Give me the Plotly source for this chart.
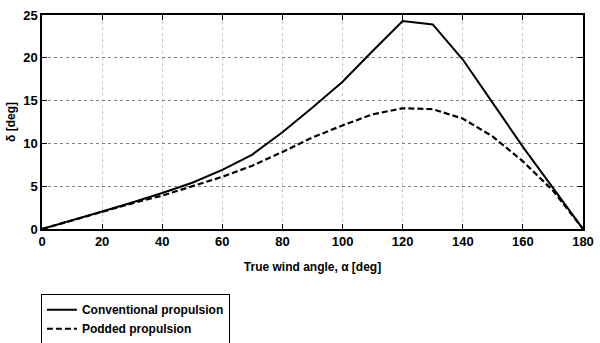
import plotly.graph_objects as go

angle = [0, 10, 20, 30, 40, 50, 60, 70, 80, 90, 100, 110, 120, 130, 140, 150, 160, 170, 180]
conventional = [0, 1.0, 2.05, 3.1, 4.2, 5.4, 6.9, 8.7, 11.3, 14.2, 17.2, 20.8, 24.3, 23.9, 19.8, 14.7, 9.6, 4.8, 0]
podded = [0, 1.0, 2.0, 3.0, 3.9, 5.0, 6.1, 7.4, 9.0, 10.7, 12.1, 13.4, 14.1, 14.0, 12.9, 10.8, 7.9, 4.5, 0]

xticks = [0, 20, 40, 60, 80, 100, 120, 140, 160, 180]
yticks = [0, 5, 10, 15, 20, 25]

FAM = "Liberation Sans, Arial, sans-serif"
tickfont = dict(family=FAM, size=13, color="black", weight="bold")
labfont = dict(family=FAM, size=12, color="black", weight="bold")

fig = go.Figure()
fig.add_trace(go.Scatter(x=angle, y=conventional, mode="lines", name="Conventional propulsion",
                         line=dict(color="black", width=2, dash="solid")))
fig.add_trace(go.Scatter(x=angle, y=podded, mode="lines", name="Podded propulsion",
                         line=dict(color="black", width=2.2, dash="6px,3px")))

fig.update_layout(
    width=600, height=343,
    margin=dict(l=42, r=17, t=15, b=114, autoexpand=False),
    paper_bgcolor="white", plot_bgcolor="white",
    font=labfont,
    showlegend=True,
    legend=dict(x=-0.002, y=-0.305, xanchor="left", yanchor="top",
                bordercolor="black", borderwidth=1, bgcolor="white",
                font=labfont, tracegroupgap=0, itemwidth=30),
)
fig.update_xaxes(range=[0, 180], tickvals=xticks, ticks="inside", ticklen=5, tickcolor="black",
                 showline=True, linecolor="black", linewidth=1.5, mirror="ticks",
                 showgrid=True, gridcolor="#c8c8c8", griddash="dot", gridwidth=1,
                 zeroline=False,
                 title=dict(text="True wind angle, α [deg]", standoff=14, font=labfont),
                 tickfont=tickfont)
fig.update_yaxes(range=[0, 25], tickvals=yticks, ticks="inside", ticklen=5, tickcolor="black",
                 showline=True, linecolor="black", linewidth=1.5, mirror="ticks",
                 showgrid=True, gridcolor="#808080", griddash="dot", gridwidth=1,
                 zeroline=False,
                 title=dict(text="δ [deg]", standoff=5, font=labfont),
                 tickfont=tickfont)

fig.write_html("out.html")
